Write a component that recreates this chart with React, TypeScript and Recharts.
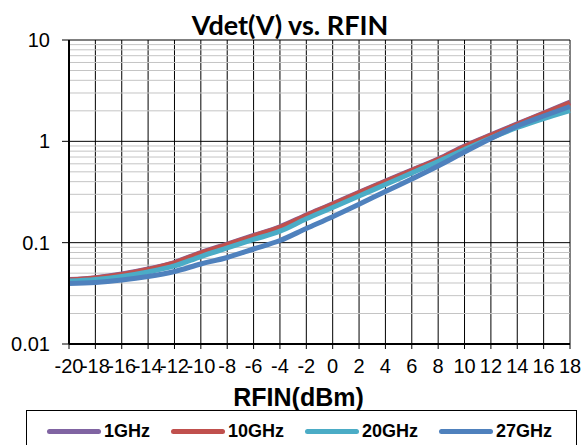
import React from 'react';
import { LineChart, Line, XAxis, YAxis, CartesianGrid, ReferenceLine, Legend } from 'recharts';

// RF input power (dBm)
const rfin = [-20, -18, -16, -14, -12, -10, -8, -6, -4, -2, 0, 2, 4, 6, 8, 10, 12, 14, 16, 18];

// detector output voltage (V) per frequency
const ghz1 = [0.0432, 0.0452, 0.049, 0.0549, 0.0637, 0.08, 0.097, 0.1178, 0.1435, 0.1875, 0.242, 0.315, 0.4065, 0.5215, 0.67, 0.9, 1.16, 1.485, 1.905, 2.44];
const ghz10 = [0.0428, 0.0448, 0.0485, 0.0543, 0.063, 0.0791, 0.0959, 0.1163, 0.1418, 0.1854, 0.2391, 0.3112, 0.4016, 0.5155, 0.6618, 0.885, 1.145, 1.466, 1.883, 2.406];
const ghz20 = [0.0418, 0.0433, 0.0464, 0.0514, 0.0589, 0.073, 0.0886, 0.1075, 0.1298, 0.172, 0.2224, 0.2888, 0.3751, 0.4872, 0.6326, 0.8308, 1.079, 1.369, 1.68, 2.016];
const ghz27 = [0.0396, 0.0405, 0.0428, 0.0464, 0.052, 0.0616, 0.0714, 0.0866, 0.105, 0.138, 0.1804, 0.2391, 0.3199, 0.425, 0.5708, 0.785, 1.067, 1.417, 1.779, 2.207];

const yTicks = [0.01, 0.1, 1, 10];
const minorTicks = [
  0.02, 0.03, 0.04, 0.05, 0.06, 0.07, 0.08, 0.09,
  0.2, 0.3, 0.4, 0.5, 0.6, 0.7, 0.8, 0.9,
  2, 3, 4, 5, 6, 7, 8, 9,
];

const series = [
  { key: 'g1', name: '1GHz', color: '#8064A2' },
  { key: 'g10', name: '10GHz', color: '#C0504D' },
  { key: 'g20', name: '20GHz', color: '#4BACC6' },
  { key: 'g27', name: '27GHz', color: '#4F81BD' },
];

const data = rfin.map((x, i) => ({
  rfin: x,
  g1: ghz1[i],
  g10: ghz10[i],
  g20: ghz20[i],
  g27: ghz27[i],
}));

const tickFont = { fontFamily: 'Liberation Sans, Arial, sans-serif', fontSize: 20, fill: '#000' };

// legend keeps the series order (recharts sorts its payload)
const renderLegend = () => (
  <div
    style={{
      border: '1px solid #000',
      height: 42,
      boxSizing: 'border-box',
      display: 'flex',
      alignItems: 'center',
      gap: 21,
      paddingLeft: 20,
      background: '#fff',
    }}
  >
    {series.map(s => (
      <div key={s.key} style={{ display: 'flex', alignItems: 'center' }}>
        <div style={{ width: 54, height: 5, borderRadius: 3, background: s.color }} />
        <span
          style={{
            marginLeft: 3,
            fontFamily: 'Liberation Sans, Arial, sans-serif',
            fontWeight: 700,
            fontSize: 18,
            color: '#000',
          }}
        >
          {s.name}
        </span>
      </div>
    ))}
  </div>
);

export default function App() {
  return (
    <div style={{ position: 'absolute', left: 0, top: 0, width: 585, height: 445, background: '#fff' }}>
      <LineChart width={585} height={445} data={data} margin={{ top: 40, right: 15, bottom: 71, left: 0 }}>
        {minorTicks.map(v => (
          <ReferenceLine key={v} y={v} stroke="#c4c4c4" strokeWidth={1} />
        ))}
        <CartesianGrid stroke="#000" strokeWidth={1} />
        <XAxis
          dataKey="rfin"
          type="number"
          domain={[-20, 18]}
          ticks={rfin}
          interval={0}
          tick={tickFont}
          tickSize={5}
          tickMargin={10}
          axisLine={{ stroke: '#000', strokeWidth: 2 }}
          tickLine={{ stroke: '#000' }}
          height={30}
        />
        <YAxis
          scale="log"
          domain={[0.01, 10]}
          ticks={yTicks}
          allowDataOverflow
          interval={0}
          width={69}
          tick={tickFont}
          tickSize={7}
          tickMargin={12}
          axisLine={{ stroke: '#000', strokeWidth: 2 }}
          tickLine={{ stroke: '#000' }}
          tickFormatter={(v: number) => String(v)}
        />
        <Legend
          layout="horizontal"
          verticalAlign="middle"
          align="center"
          content={renderLegend}
          wrapperStyle={{ position: 'absolute', left: 26, top: 410, width: 551 }}
        />
        {series.map(s => (
          <Line
            key={s.key}
            dataKey={s.key}
            name={s.name}
            stroke={s.color}
            strokeWidth={5}
            dot={false}
            type="monotone"
            isAnimationActive={false}
          />
        ))}
      </LineChart>
      <svg
        width={585}
        height={445}
        style={{ position: 'absolute', left: 0, top: 0, pointerEvents: 'none' }}
      >
        <text
          x={290}
          y={35}
          textAnchor="middle"
          fontFamily="Lato, sans-serif"
          fontWeight={700}
          fontSize={27}
          fill="#000"
        >
          Vdet(V) vs. RFIN
        </text>
        <text
          x={298.5}
          y={406}
          textAnchor="middle"
          fontFamily="Liberation Sans, Arial, sans-serif"
          fontWeight={700}
          fontSize={25}
          fill="#000"
        >
          RFIN(dBm)
        </text>
      </svg>
    </div>
  );
}
